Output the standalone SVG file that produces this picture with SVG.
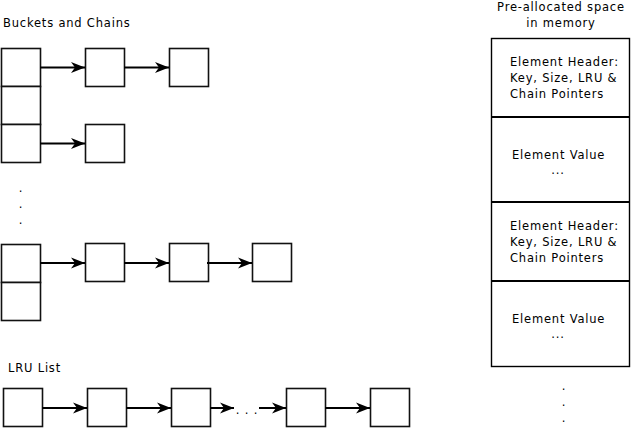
<svg xmlns="http://www.w3.org/2000/svg" width="631" height="428" viewBox="0 0 631 428">
<style>
.b{fill:#fff;stroke:#111;stroke-width:1.6}
.m{fill:#fff;stroke:#000;stroke-width:1.4}
.d{stroke:#000;stroke-width:2}
.a{stroke:#000;stroke-width:2;fill:none;marker-end:url(#ah)}
text{font-family:"DejaVu Sans",sans-serif;font-size:11.5px;letter-spacing:0.8px;fill:#000}
</style>
<defs>
<marker id="ah" markerUnits="userSpaceOnUse" markerWidth="15" markerHeight="12" refX="14" refY="6" orient="auto">
<path d="M0,0.5 L14,6 L0,11.5 L4,6 Z" fill="#000"/>
</marker>
</defs>
<rect width="631" height="428" fill="#fff"/>
<text x="3" y="27">Buckets and Chains</text>
<text x="8" y="372">LRU List</text>
<text x="561" y="11" text-anchor="middle">Pre-allocated space</text>
<text x="561" y="27" text-anchor="middle">in memory</text>
<g id="buckets1">
<rect class="b" x="1.5" y="48.5" width="39" height="38"/>
<rect class="b" x="1.5" y="86.5" width="39" height="38"/>
<rect class="b" x="1.5" y="124.5" width="39" height="38"/>
</g>
<g id="chain1a"><rect class="b" x="85.5" y="48.5" width="39" height="38"/></g>
<g id="chain1b"><rect class="b" x="169.5" y="48.5" width="39" height="38"/></g>
<g id="chain2a"><rect class="b" x="85.5" y="124.5" width="39" height="38"/></g>
<g id="vdots1">
<text x="21" y="192" text-anchor="middle">.</text>
<text x="21" y="208" text-anchor="middle">.</text>
<text x="21" y="224" text-anchor="middle">.</text>
</g>
<g id="buckets2">
<rect class="b" x="1.5" y="244.5" width="39" height="38"/>
<rect class="b" x="1.5" y="282.5" width="39" height="38"/>
</g>
<g id="chain3a"><rect class="b" x="85.5" y="243.5" width="39" height="38"/></g>
<g id="chain3b"><rect class="b" x="169.5" y="243.5" width="39" height="38"/></g>
<g id="chain3c"><rect class="b" x="252.5" y="243.5" width="39" height="38"/></g>
<g id="lru1"><rect class="b" x="3.5" y="388.5" width="39" height="38"/></g>
<g id="lru2"><rect class="b" x="87.5" y="388.5" width="39" height="38"/></g>
<g id="lru3"><rect class="b" x="171.5" y="388.5" width="39" height="38"/></g>
<g id="lrudots"><text x="247" y="414" text-anchor="middle">. . .</text></g>
<g id="lru4"><rect class="b" x="286.5" y="388.5" width="39" height="38"/></g>
<g id="lru5"><rect class="b" x="370.5" y="388.5" width="39" height="38"/></g>
<g id="memory">
<rect class="m" x="491.5" y="38.5" width="138" height="328"/>
<line class="d" x1="491" y1="117" x2="630" y2="117"/>
<line class="d" x1="491" y1="202" x2="630" y2="202"/>
<line class="d" x1="491" y1="281" x2="630" y2="281"/>
<text x="510" y="66">Element Header:</text>
<text x="510" y="82">Key, Size, LRU &amp;</text>
<text x="510" y="98">Chain Pointers</text>
<text x="512" y="159">Element Value</text>
<text x="558" y="174" text-anchor="middle">...</text>
<text x="510" y="230">Element Header:</text>
<text x="510" y="246">Key, Size, LRU &amp;</text>
<text x="510" y="262">Chain Pointers</text>
<text x="512" y="323">Element Value</text>
<text x="558" y="338" text-anchor="middle">...</text>
<text x="564" y="390" text-anchor="middle">.</text>
<text x="564" y="406" text-anchor="middle">.</text>
<text x="564" y="422" text-anchor="middle">.</text>
</g>
<g id="connectors">
<line class="a" x1="40" y1="67.5" x2="85" y2="67.5"/>
<line class="a" x1="124" y1="67.5" x2="169" y2="67.5"/>
<line class="a" x1="40" y1="143.5" x2="85" y2="143.5"/>
<line class="a" x1="40" y1="263" x2="85" y2="263"/>
<line class="a" x1="124" y1="263" x2="169" y2="263"/>
<line class="a" x1="207" y1="263" x2="252" y2="263"/>
<line class="a" x1="42" y1="408" x2="87" y2="408"/>
<line class="a" x1="126" y1="408" x2="171" y2="408"/>
<line class="a" x1="210" y1="408" x2="234" y2="408"/>
<line class="a" x1="259" y1="408" x2="286" y2="408"/>
<line class="a" x1="325" y1="408" x2="370" y2="408"/>
</g>
</svg>
